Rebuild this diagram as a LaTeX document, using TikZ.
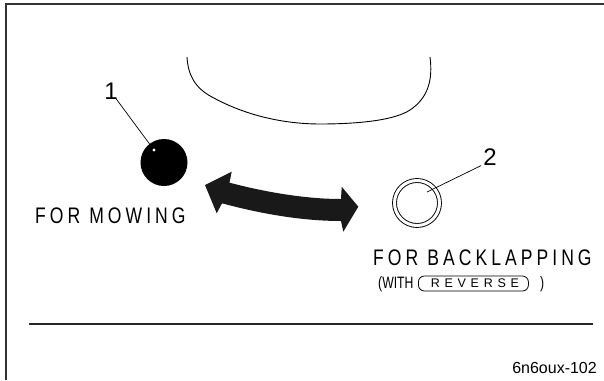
\documentclass[tikz,border=0pt]{standalone}
\usepackage{fontspec}
\setmainfont{Liberation Sans}
\newfontfamily\capfont[FakeStretch=0.78,LetterSpace=18]{Liberation Sans}
\newfontfamily\narrowfont[FakeStretch=0.74]{Liberation Sans}
\newfontfamily\keyfont[LetterSpace=38]{Liberation Sans}
\usetikzlibrary{positioning}

\begin{document}
\begin{tikzpicture}[
    x=1pt, y=-1pt,
    frame_style/.style={black!80, line width=1.5pt},
    edge_style/.style={black, line width=0.9pt},
    lbl/.style={font=\capfont\fontsize{22.5}{24}\selectfont, inner sep=0pt},
    small_lbl/.style={font=\narrowfont\fontsize{16.5}{19}\selectfont, inner sep=0pt},
    num/.style={font=\fontsize{24}{26}\selectfont, inner sep=0pt},
    knob_full/.style={circle, fill=black, minimum size=47pt, inner sep=0pt},
    knob_ring/.style={circle, draw=black, line width=0.9pt, double=white, double distance=3pt, minimum size=45pt, inner sep=0pt},
    key_box/.style={draw=black, line width=0.8pt, rounded corners=6pt, minimum width=110pt, minimum height=15pt, inner sep=0pt, font=\keyfont\fontsize{12.5}{14}\selectfont}
  ]
  \useasboundingbox (0,0) rectangle (604,380);

  % 1. Ramen och skiljelinjen
  \draw[frame_style] (6,380) -- (6,4) -- (604,4);
  \draw[black!85, line width=1.3pt] (29,324) -- (593,324);

  % 2. Kapans kontur
  \draw[edge_style] (187,57) .. controls (188,75) and (195,88) .. (212,97)
    .. controls (250,118) and (290,124) .. (320,124)
    .. controls (360,124) and (395,120) .. (410,110)
    .. controls (428,98) and (433,80) .. (430,57);

  % 3. Spakens lägen
  \node[knob_full] (mow) at (164,162.5) {};
  \node[knob_ring] (back) at (417,203) {};

  % 4. Dubbelpil mellan lägena
  \fill[black!90] (205,185) -- (231.7,171.7) -- (229.5,182.7)
    .. controls (265,192) and (305,199) .. (341,199)
    -- (341.7,186.7) -- (358.3,206.7) -- (343.3,231.7) -- (341,221)
    .. controls (300,221) and (258,213) .. (222,203.3)
    -- (216.7,213.3) -- cycle;

  % 5. Nummer och hänvisningslinjer
  \node[num] (n1) at (111,91) {1};
  \node[num] (n2) at (490,157) {2};
  \coordinate (p1) at (154,150);
  \coordinate (p2) at (427,192);
  \draw[black, line width=0.7pt] (n1.south east) ++(-2,-1) coordinate (s1) (s1) -- (p1);
  \fill[white] (p1) circle (1.6);
  \draw[black, line width=0.7pt] (n2.south west) ++(-2,0) coordinate (s2) (s2) -- (p2);

  % 6. Texter
  \node[lbl, anchor=base west] (mowtxt) at (35,223) {FOR MOWING};
  \node[lbl, anchor=base west] (backtxt) at (373,265) {FOR BACKLAPPING};
  \node[small_lbl, anchor=base west] (with) at (378,288) {(WITH};
  \node[key_box, anchor=west] (rev) at (418,283.5) {\hspace*{3pt}REVERSE};
  \node[small_lbl, anchor=base west] (close) at (540,288) {)};
  \node[font=\fontsize{16}{18}\selectfont, inner sep=0pt, anchor=base east] (code) at (597,373) {6n6oux-102};

\end{tikzpicture}
\end{document}
